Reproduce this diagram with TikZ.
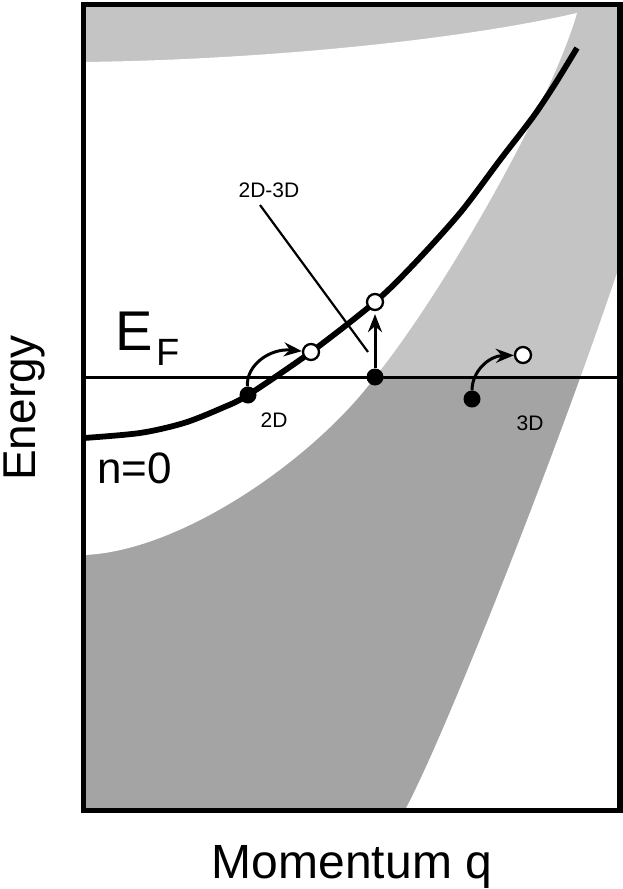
\documentclass[tikz,border=0pt]{standalone}
\usepackage{fontspec}
\setmainfont{Liberation Sans}
\usetikzlibrary{arrows.meta}
\definecolor{lgray}{RGB}{196,196,196}
\definecolor{dgray}{RGB}{164,164,164}
\begin{document}
\begin{tikzpicture}[x=1pt,y=-1pt,
  dot/.style={circle,fill=black,inner sep=0pt,minimum size=17pt},
  ocirc/.style={circle,draw=black,fill=white,line width=2.3pt,inner sep=0pt,minimum size=16pt},
  arr/.style={line width=3pt,-{Stealth[length=18pt,width=14pt,inset=6pt]}},
  small/.style={inner sep=0pt,font=\fontsize{21}{21}\selectfont},
  thickcurve/.style={line width=5.8pt},
  frame/.style={line width=5.5pt}]
\useasboundingbox (0,0) rectangle (623,889);
% background regions
\fill[lgray] (83.5,4.5) rectangle (620,810.5);
\fill[dgray] (83.5,377) rectangle (620,810.5);
\fill[white] (84,62) .. controls (250,60) and (450,42) .. (577,13)
  .. controls (552,101) and (445,290) .. (375,377)
  .. controls (315.5,457.3) and (182.5,551.2) .. (84,555)
  -- cycle;
\fill[white] (404,812) .. controls (444,739) and (560,444) .. (620,264)
  -- (622,812) -- cycle;
% Fermi level
\draw[line width=3pt] (84,377) -- (620,377);
% n=0 dispersion
\draw[thickcurve] plot[smooth] coordinates {(84,438) (140,433) (184,423) (222,408) (248,395) (311,352) (375,302) (413,265) (460,213) (500,160) (533,117) (555,84) (577,48)};
% frame
\draw[frame] (83.5,4.5) rectangle (620,810.5);
% pointer line for 2D-3D
\coordinate (pa) at (260,205);
\coordinate (pb) at (368,352);
\draw[line width=2.2pt] (pa) -- (pb);
% electrons and holes
\node[dot] (d2) at (248,395) {};
\node[dot] (dm) at (375,377) {};
\node[dot] (d3) at (472,399) {};
\node[ocirc] (o2) at (311,352) {};
\node[ocirc] (om) at (375,302) {};
\node[ocirc] (o3) at (523,355) {};
% transitions
\draw[arr] (d2) .. controls (246,365) and (270,348) .. (o2);
\draw[arr,shorten >=3pt] (dm) -- (om);
\draw[arr] (d3) .. controls (472,372) and (488,356) .. (o3);
% labels
\node[small,anchor=base] (l23) at (269,197) {2D-3D};
\node[small,anchor=base] (l2) at (274,427) {2D};
\node[small,anchor=base] (l3) at (530,430) {3D};
\node[inner sep=0pt,anchor=base west] (ef) at (115.6,350) {\fontsize{56}{56}\selectfont E\kern3pt\raisebox{-15pt}{\fontsize{38}{38}\selectfont F}};
\node[inner sep=0pt,anchor=base west] (n0) at (97,483) {\fontsize{44}{44}\selectfont n=0};
\node[inner sep=0pt,anchor=base west,rotate=90] (en) at (35,481) {\fontsize{46}{46}\selectfont Energy};
\node[inner sep=0pt,anchor=base] (mq) at (352,878) {\fontsize{48}{48}\selectfont Momentum q};
\end{tikzpicture}
\end{document}
